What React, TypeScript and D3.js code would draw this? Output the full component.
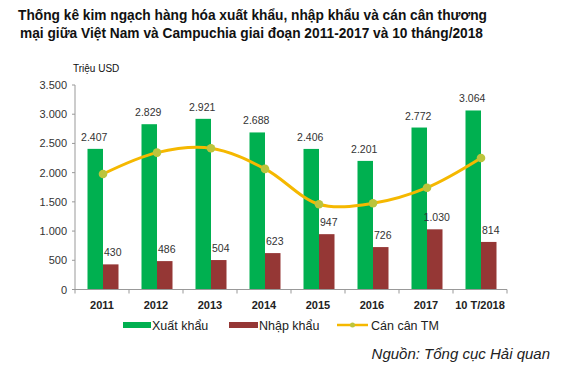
import React from "react";
import * as d3 from "d3";

const categories = ["2011", "2012", "2013", "2014", "2015", "2016", "2017", "10 T/2018"];
const exportValues = [2407, 2829, 2921, 2688, 2406, 2201, 2772, 3064];
const importValues = [430, 486, 504, 623, 947, 726, 1030, 814];
const balanceValues = [1977, 2343, 2417, 2065, 1459, 1475, 1742, 2250];
const yTicks = [0, 500, 1000, 1500, 2000, 2500, 3000, 3500];

const fmt = (v: number) => d3.format(",")(v).replace(/,/g, ".");

export default function App() {
  const W = 576, H = 379;
  const left = 75, right = 507, top = 85, bottom = 289.5;
  const x = d3.scaleBand<string>().domain(categories).range([left, right]);
  const y = d3.scaleLinear().domain([0, 3500]).range([bottom, top]);
  const barW = 15.5;
  const center = (c: string) => (x(c) as number) + x.bandwidth() / 2 + 1;
  const line = d3
    .line<number>()
    .x((_, i) => center(categories[i]))
    .y((d) => y(d))
    .curve(d3.curveCatmullRom.alpha(0.5));
  const font = "Arial, 'Liberation Sans', sans-serif";
  const green = "#00b050";
  const red = "#953735";
  const gold = "#f5b800";
  const marker = "#bcc43c";

  return (
    <svg width={W} height={H} style={{ position: "absolute", left: 0, top: 0, background: "#fff" }} fontFamily={font}>
      <text x={18} y={20} fontSize={15} fontWeight="bold" fill="#111" textLength={469} lengthAdjust="spacingAndGlyphs">
        Thống kê kim ngạch hàng hóa xuất khẩu, nhập khẩu và cán cân thương
      </text>
      <text x={20} y={38} fontSize={15} fontWeight="bold" fill="#111" textLength={463} lengthAdjust="spacingAndGlyphs">
        mại giữa Việt Nam và Campuchia giai đoạn 2011-2017 và 10 tháng/2018
      </text>
      <text x={73} y={72} fontSize={10} fill="#111">Triệu USD</text>

      {yTicks.map((t) => (
        <g key={t}>
          <line x1={left - 3} x2={left} y1={y(t)} y2={y(t)} stroke="#999" />
          <text x={67} y={y(t) + 4} textAnchor="end" fontSize={11} fill="#333">{fmt(t)}</text>
        </g>
      ))}
      <line x1={left} x2={left} y1={top} y2={bottom} stroke="#999" />

      {categories.map((c, i) => (
        <g key={c}>
          <rect x={center(c) - barW} y={y(exportValues[i])} width={barW} height={bottom - y(exportValues[i])} fill={green} />
          <rect x={center(c)} y={y(importValues[i])} width={barW} height={bottom - y(importValues[i])} fill={red} />
          <text x={center(c) - barW / 2 - 1} y={y(exportValues[i]) - 8} textAnchor="middle" fontSize={10.5} fill="#333">{fmt(exportValues[i])}</text>
          <text x={center(c) + barW / 2 + 2} y={y(importValues[i]) - 8} textAnchor="middle" fontSize={10.5} fill="#333">{fmt(importValues[i])}</text>
          <text x={center(c) - 1} y={309} textAnchor="middle" fontSize={11} fontWeight="bold" fill="#222">{c}</text>
        </g>
      ))}

      <line x1={left} x2={right} y1={bottom} y2={bottom} stroke="#999" />
      {categories.map((c) => (
        <line key={c} x1={x(c) as number} x2={x(c) as number} y1={bottom} y2={bottom + 4} stroke="#999" />
      ))}
      <line x1={right} x2={right} y1={bottom} y2={bottom + 4} stroke="#999" />

      <path d={line(balanceValues) as string} fill="none" stroke={gold} strokeWidth={3} />
      {balanceValues.map((v, i) => (
        <circle key={i} cx={center(categories[i])} cy={y(v)} r={4.3} fill={marker} />
      ))}

      <rect x={123} y={322} width={28} height={6} fill={green} />
      <text x={152} y={329.5} fontSize={12.5} fill="#222">Xuất khẩu</text>
      <rect x={229} y={322} width={29} height={6} fill={red} />
      <text x={259} y={329.5} fontSize={12.5} fill="#222">Nhập khẩu</text>
      <line x1={337} x2={368} y1={325} y2={325} stroke={gold} strokeWidth={2.5} />
      <circle cx={352.5} cy={325} r={2.5} fill={marker} />
      <text x={371} y={329.5} fontSize={12.5} fill="#222">Cán cân TM</text>

      <text x={550} y={359} textAnchor="end" fontSize={15} fontStyle="italic" fill="#222">Nguồn: Tổng cục Hải quan</text>
    </svg>
  );
}
